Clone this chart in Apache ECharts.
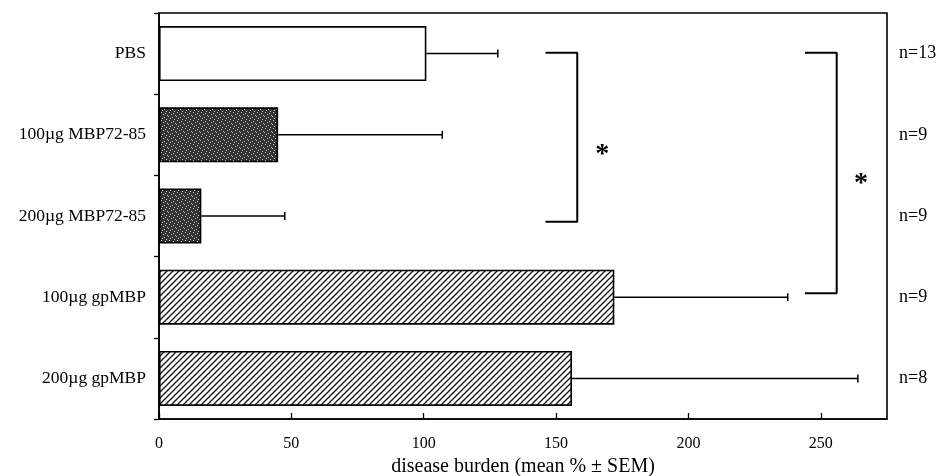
<!DOCTYPE html>
<html>
<head>
<meta charset="utf-8">
<title>Disease burden by treatment</title>
<script src="https://cdn.jsdelivr.net/npm/echarts@6/dist/echarts.min.js"></script>
<style>
  html, body { margin: 0; padding: 0; background: #fff; }
  #chart { width: 937px; height: 476px; }
</style>
</head>
<body>
<div id="chart"></div>
<script>
// Treatment groups, top to bottom
const categories = ['PBS', '100µg MBP72-85', '200µg MBP72-85', '100µg gpMBP', '200µg gpMBP'];
// Mean disease burden (%) and mean + SEM for each group
const meanBurden = [101, 45, 16, 172, 156];
const upperSem = [128, 107, 47.5, 237.5, 264];
// Number of animals per group
const groupSizes = ['n=13', 'n=9', 'n=9', 'n=9', 'n=8'];
// Significance brackets: [x in %, y in category units]
const bracketMbp = [[146, 0.49], [158, 0.49], [158, 2.57], [146, 2.57]];
const bracketGp = [[244, 0.49], [256, 0.49], [256, 3.45], [244, 3.45]];
const starMarks = [[167.4, 1.74], [265.2, 2.10]];

const FONT = "'Liberation Serif', 'Times New Roman', serif";
const INK = '#000';

// Dark stippled fill for the peptide groups
function stipplePattern() {
  const c = document.createElement('canvas');
  c.width = 8; c.height = 8;
  const g = c.getContext('2d');
  g.fillStyle = '#303030';
  g.fillRect(0, 0, 8, 8);
  g.fillStyle = '#d0d0d0';
  const dots = [[1, 0], [5, 1], [3, 2], [7, 3], [0, 4], [4, 5], [2, 6], [6, 7]];
  dots.forEach(function (d) { g.fillRect(d[0], d[1], 1, 1); });
  return { image: c, repeat: 'repeat' };
}

// Diagonal hatch fill for the whole-protein groups
function hatchPattern() {
  const s = 6;
  const c = document.createElement('canvas');
  c.width = s; c.height = s;
  const g = c.getContext('2d');
  g.fillStyle = '#fff';
  g.fillRect(0, 0, s, s);
  g.strokeStyle = '#111';
  g.lineWidth = 1.3;
  g.beginPath();
  g.moveTo(-1, s + 1); g.lineTo(s + 1, -1);
  g.moveTo(-1, 1); g.lineTo(1, -1);
  g.moveTo(s - 1, s + 1); g.lineTo(s + 1, s - 1);
  g.stroke();
  return { image: c, repeat: 'repeat' };
}

const stipple = stipplePattern();
const hatch = hatchPattern();
const barFills = ['#fff', stipple, stipple, hatch, hatch];

const chart = echarts.init(document.getElementById('chart'), null, { renderer: 'canvas' });

const option = {
  animation: false,
  backgroundColor: '#fff',
  grid: {
    left: 159, right: 50, top: 13, bottom: 57,
    outerBoundsMode: 'none',
    containLabel: false,
    show: true, borderColor: INK, borderWidth: 1.6, backgroundColor: 'transparent'
  },
  xAxis: {
    type: 'value',
    min: 0, max: 275, interval: 50,
    axisLine: { show: true, onZero: false, lineStyle: { color: INK, width: 1.6 } },
    axisTick: { show: true, inside: true, length: 6, lineStyle: { color: INK, width: 1.3 } },
    splitLine: { show: false },
    axisLabel: { color: INK, fontFamily: FONT, fontSize: 16, margin: 17, showMaxLabel: false },
    name: 'disease burden (mean % ± SEM)',
    nameLocation: 'middle',
    nameGap: 36,
    nameTextStyle: { color: INK, fontFamily: FONT, fontSize: 20 }
  },
  yAxis: [
    {
      type: 'category',
      inverse: true,
      data: categories,
      axisLine: { show: true, onZero: false, lineStyle: { color: INK, width: 1.6 } },
      axisTick: { show: true, length: 5, lineStyle: { color: INK, width: 1.3 } },
      axisLabel: { color: INK, fontFamily: FONT, fontSize: 17.5, margin: 13 }
    },
    {
      type: 'category',
      inverse: true,
      position: 'right',
      data: groupSizes,
      axisLine: { show: false },
      axisTick: { show: false },
      axisLabel: { color: INK, fontFamily: FONT, fontSize: 18, margin: 12 }
    },
    {
      type: 'value',
      inverse: true,
      min: 0, max: 5,
      show: false
    }
  ],
  series: [
    {
      type: 'bar',
      yAxisIndex: 0,
      barWidth: 55,
      data: meanBurden.map(function (v, i) {
        return { value: v, itemStyle: { color: barFills[i] } };
      }),
      itemStyle: { borderColor: INK, borderWidth: 1.6 },
      z: 2
    },
    {
      // One-sided SEM whiskers drawn from the bar end
      type: 'custom',
      yAxisIndex: 0,
      data: meanBurden.map(function (v, i) { return [i, v, upperSem[i]]; }),
      encode: { x: [1, 2], y: 0 },
      renderItem: function (params, api) {
        const idx = api.value(0);
        const start = api.coord([api.value(1), idx]);
        const end = api.coord([api.value(2), idx]);
        const capHalf = 4;
        const style = { stroke: INK, lineWidth: 1.5 };
        return {
          type: 'group',
          children: [
            { type: 'line', shape: { x1: start[0], y1: start[1], x2: end[0], y2: end[1] }, style: style },
            { type: 'line', shape: { x1: end[0], y1: end[1] - capHalf, x2: end[0], y2: end[1] + capHalf }, style: style }
          ]
        };
      },
      z: 3
    },
    {
      type: 'line',
      yAxisIndex: 2,
      data: bracketMbp,
      symbol: 'none',
      lineStyle: { color: INK, width: 2 },
      z: 4
    },
    {
      type: 'line',
      yAxisIndex: 2,
      data: bracketGp,
      symbol: 'none',
      lineStyle: { color: INK, width: 2 },
      z: 4
    },
    {
      type: 'scatter',
      yAxisIndex: 2,
      data: starMarks,
      symbolSize: 0,
      itemStyle: { opacity: 1 },
      label: {
        show: true,
        position: 'inside',
        formatter: '*',
        color: INK,
        opacity: 1,
        fontFamily: FONT,
        fontWeight: 'bold',
        fontSize: 28
      },
      z: 5
    }
  ]
};

chart.setOption(option);
</script>
</body>
</html>
